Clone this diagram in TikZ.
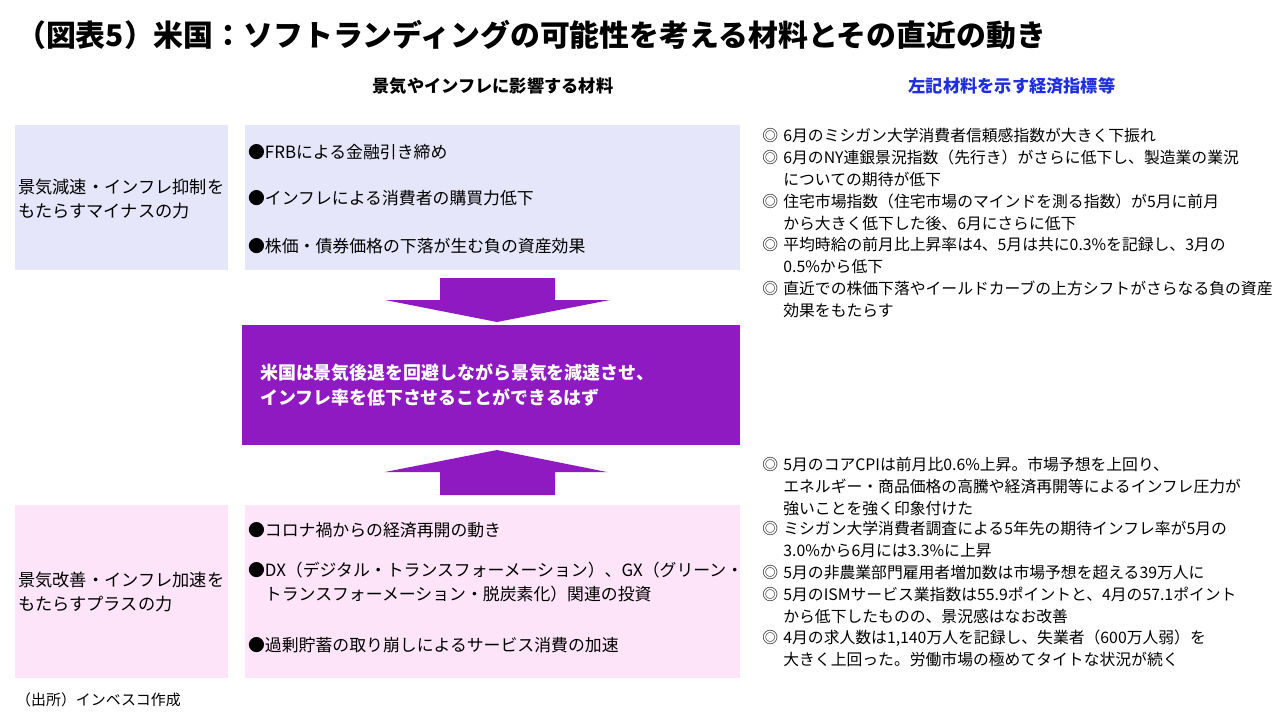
\documentclass[tikz,border=0pt]{standalone}
\usepackage{fontspec}
\setmainfont{Noto Sans CJK JP}
\usetikzlibrary{positioning}
\definecolor{lav}{HTML}{E6E6FA}
\definecolor{pnk}{HTML}{FDE4F8}
\definecolor{purp}{HTML}{8F1AC2}
\definecolor{hblue}{HTML}{1F2FE0}
\tikzset{
  panel/.style={fill=#1, draw=none},
  bull/.style={anchor=west, inner sep=1pt, font=\fontsize{9.6}{14}\selectfont, align=left},
  side/.style={anchor=west, font=\fontsize{9.8}{14}\selectfont, align=left},
  msym/.style={anchor=north west, inner sep=0pt, font=\fontsize{9}{12.5}\selectfont},
  itxt/.style={anchor=north west, inner sep=0pt, align=left, font=\fontsize{9}{12.5}\selectfont},
  head/.style={font=\bfseries\fontsize{9.8}{12}\selectfont}
}
\newcommand\itm[3]{%
  \node[msym] (s#1) at (762,#2) {◎};
  \node[itxt] (t#1) at (783,#2) {#3};}
\begin{document}
\begin{tikzpicture}[x=0.02cm,y=-0.02cm]
\useasboundingbox (0,0) rectangle (1280,720);
% title and headers
\node[anchor=west, font=\bfseries\fontsize{17}{20}\selectfont] (title) at (10,35)
  {（図表5）米国：ソフトランディングの可能性を考える材料とその直近の動き};
\node[head] (hl) at (493,86) {景気やインフレに影響する材料};
\node[head, text=hblue] (hr) at (1012,86) {左記材料を示す経済指標等};

% upper panels
\fill[lav] (15,125) rectangle (228,270);
\fill[lav] (245,125) rectangle (740,270);
\node[side] (minus) at (12,199) {景気減速・インフレ抑制を\\もたらすマイナスの力};
\node[bull] (b1) at (246,152) {●FRBによる金融引き締め};
\node[bull] (b2) at (246,198) {●インフレによる消費者の購買力低下};
\node[bull] (b3) at (246,246) {●株価・債券価格の下落が生む負の資産効果};

% arrows and centre
\fill[purp] (440,278) -- (555,278) -- (555,300) -- (610,300) -- (497,322)
  -- (385,300) -- (440,300) -- cycle;
\fill[purp] (242,325) rectangle (740,445);
\node[anchor=west, text=white, align=left, font=\bfseries\fontsize{10.2}{14}\selectfont] (ctr) at (254,385)
  {米国は景気後退を回避しながら景気を減速させ、\\インフレ率を低下させることができるはず};
\fill[purp] (440,495) -- (555,495) -- (555,472) -- (607,472) -- (497,450)
  -- (385,472) -- (440,472) -- cycle;

% lower panels
\fill[pnk] (15,505) rectangle (228,678);
\fill[pnk] (245,505) rectangle (740,678);
\node[side] (plus) at (12,592) {景気改善・インフレ加速を\\もたらすプラスの力};
\node[bull] (b4) at (246,530) {●コロナ禍からの経済再開の動き};
\node[bull] (b5) at (246,582) {●DX（デジタル・トランスフォーメーション）、GX（グリーン・\\\hphantom{●}トランスフォーメーション・脱炭素化）関連の投資};
\node[bull] (b6) at (246,645) {●過剰貯蓄の取り崩しによるサービス消費の加速};

% indicators
\itm{1}{128}{6月のミシガン大学消費者信頼感指数が大きく下振れ}
\itm{2}{150}{6月のNY連銀景況指数（先行き）がさらに低下し、製造業の業況\\についての期待が低下}
\itm{3}{194}{住宅市場指数（住宅市場のマインドを測る指数）が5月に前月\\から大きく低下した後、6月にさらに低下}
\itm{4}{237}{平均時給の前月比上昇率は4、5月は共に0.3\%を記録し、3月の\\0.5\%から低下}
\itm{5}{281}{直近での株価下落やイールドカーブの上方シフトがさらなる負の資産\\効果をもたらす}
\itm{6}{457}{5月のコアCPIは前月比0.6\%上昇。市場予想を上回り、\\エネルギー・商品価格の高騰や経済再開等によるインフレ圧力が\\強いことを強く印象付けた}
\itm{7}{521}{ミシガン大学消費者調査による5年先の期待インフレ率が5月の\\3.0\%から6月には3.3\%に上昇}
\itm{8}{565}{5月の非農業部門雇用者増加数は市場予想を超える39万人に}
\itm{9}{587}{5月のISMサービス業指数は55.9ポイントと、4月の57.1ポイント\\から低下したものの、景況感はなお改善}
\itm{10}{630}{4月の求人数は1,140万人を記録し、失業者（600万人弱）を\\大きく上回った。労働市場の極めてタイトな状況が続く}

\node[anchor=west, font=\fontsize{8.5}{11}\selectfont] (src) at (10,700) {（出所）インベスコ作成};
\end{tikzpicture}
\end{document}
